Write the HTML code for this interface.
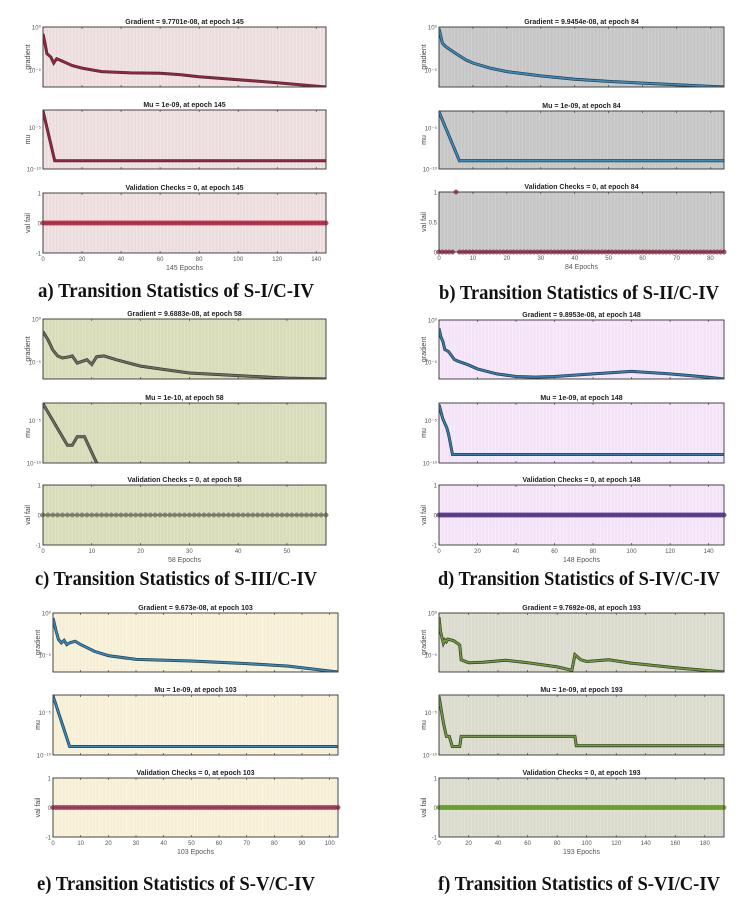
<!DOCTYPE html>
<html><head><meta charset="utf-8"><style>
html,body{margin:0;padding:0;background:#fff;}
svg{display:block;font-family:"Liberation Sans",sans-serif;}
</style></head><body>
<svg id="fig" width="753" height="907" viewBox="0 0 753 907" xmlns="http://www.w3.org/2000/svg">
<rect x="0" y="0" width="753" height="907" fill="#ffffff"/>
</svg>
<script>
// ---- Panel a data ----
const aEpochs=[0,1,2,4,5.5,7,10,15,20,30,45,60,70,80,100,120,145];
const aGrad=[-0.8,-1.9,-3.1,-3.5,-4.2,-3.7,-4.0,-4.5,-4.8,-5.2,-5.35,-5.4,-5.55,-5.8,-6.15,-6.5,-7.0];
const aMuEpochs=[0,6,145];
const aMu=[-3,-9,-9];
const aValFail=[]; for(let i=0;i<=145;i++) aValFail.push(0);
const aXTicks=[0,20,40,60,80,100,120,140];
// ---- Panel b data ----
const bEpochs=[0,1,2,5,8,10,15,20,30,40,50,60,70,84];
const bGrad=[-0.2,-1.9,-2.3,-3.1,-3.85,-4.2,-4.8,-5.2,-5.7,-6.1,-6.35,-6.55,-6.73,-7.0];
const bMuEpochs=[0,6,84];
const bMu=[-3,-9,-9];
const bValFail=[]; for(let i=0;i<=84;i++) bValFail.push(i===5?1:0);
const bXTicks=[0,10,20,30,40,50,60,70,80];
// ---- Panel c data ----
const cEpochs=[0,1,2,3,4,5.5,6,7,8,9,10,11,12.5,15,20,25,30,40,50,58];
const cGrad=[-1.47,-2.4,-3.6,-4.3,-4.55,-4.4,-4.3,-5.15,-4.95,-4.75,-5.3,-4.4,-4.3,-4.75,-5.5,-5.9,-6.3,-6.6,-6.9,-7.0];
const cMuEpochs=[0,5,6,7,8.5,11,12,58];
const cMu=[-3,-7.9,-7.9,-6.9,-6.9,-10,-10.5,-10.5];
const cValFail=[]; for(let i=0;i<=58;i++) cValFail.push(0);
const cXTicks=[0,10,20,30,40,50];
// ---- Panel d data ----
const dEpochs=[0,1,2,3,5,8,10,15,20,30,40,50,60,80,100,120,140,148];
const dGrad=[-1.0,-2.0,-2.55,-3.5,-3.75,-4.7,-4.9,-5.3,-5.8,-6.4,-6.7,-6.77,-6.7,-6.4,-6.1,-6.4,-6.8,-7.0];
const dMuEpochs=[0,2,4,5,7,148];
const dMu=[-3.1,-4.8,-5.8,-6.6,-9,-9];
const dValFail=[]; for(let i=0;i<=148;i++) dValFail.push(0);
const dXTicks=[0,20,40,60,80,100,120,140];
// ---- Panel e data ----
const eEpochs=[0,1,2,3,4,5,6,8,10,15,20,30,50,70,85,103];
const eGrad=[-0.6,-2.0,-3.15,-3.55,-3.25,-3.75,-3.55,-3.35,-3.75,-4.55,-5.05,-5.5,-5.7,-6.0,-6.3,-7.0];
const eMuEpochs=[0,6,103];
const eMu=[-3,-9,-9];
const eValFail=[]; for(let i=0;i<=103;i++) eValFail.push(0);
const eXTicks=[0,10,20,30,40,50,60,70,80,90,100];
// ---- Panel f data ----
const fEpochs=[0,1,3,4,5,6,10,14,15,20,30,45,60,80,90,92,96,100,115,130,160,193];
const fGrad=[-0.5,-2.2,-3.6,-3.2,-3.4,-3.1,-3.3,-3.8,-5.55,-5.9,-5.85,-5.6,-5.9,-6.4,-6.8,-4.95,-5.55,-5.75,-5.55,-5.95,-6.5,-7.0];
const fMuEpochs=[0,3,5,7,9,14,15,92,93,193];
const fMu=[-3.06,-6.2,-7.8,-7.8,-9,-9,-7.8,-7.8,-8.9,-8.9];
const fValFail=[]; for(let i=0;i<=193;i++) fValFail.push(0);
const fXTicks=[0,20,40,60,80,100,120,140,160,180];

const NS="http://www.w3.org/2000/svg";
const svg=document.getElementById('fig');
function mk(tag,attrs,parent){const e=document.createElementNS(NS,tag);for(const k in attrs)e.setAttribute(k,attrs[k]);(parent||svg).appendChild(e);return e;}

const panels=[
 {id:'a',x0:43,x1:326,g:[27,87],m:[110,169],v:[193,253],max:145,bg:'#ecdcdd',grid:'#f4eaea',line:'#a81e3c',mk:'#b0304a',vline:'#c02040',vrange:[-1,1],ep:aEpochs,gr:aGrad,me:aMuEpochs,mu:aMu,vf:aValFail,xt:aXTicks,gt:'Gradient = 9.7701e-08, at epoch 145',mt:'Mu = 1e-09, at epoch 145',vt:'Validation Checks = 0, at epoch 145',cap:'a) Transition Statistics of S-I/C-IV',cx:176,cy:297,cw:276},
 {id:'b',x0:439,x1:724,g:[27,87],m:[111,169],v:[192,252],max:84,bg:'#c6c6c6',grid:'#d2d2d2',line:'#2d8fcc',mk:'#a03050',vline:'none',vrange:[0,1],ep:bEpochs,gr:bGrad,me:bMuEpochs,mu:bMu,vf:bValFail,xt:bXTicks,gt:'Gradient = 9.9454e-08, at epoch 84',mt:'Mu = 1e-09, at epoch 84',vt:'Validation Checks = 0, at epoch 84',cap:'b) Transition Statistics of S-II/C-IV',cx:579,cy:299,cw:280},
 {id:'c',x0:43,x1:326,g:[319,379],m:[403,463],v:[485,545],max:58,bg:'#d9dcb9',grid:'#e2e4c8',line:'#6e6e5e',mk:'#7a7a6a',vline:'#7a7a6a',vrange:[-1,1],ep:cEpochs,gr:cGrad,me:cMuEpochs,mu:cMu,vf:cValFail,xt:cXTicks,gt:'Gradient = 9.6883e-08, at epoch 58',mt:'Mu = 1e-10, at epoch 58',vt:'Validation Checks = 0, at epoch 58',cap:'c) Transition Statistics of S-III/C-IV',cx:176,cy:585,cw:282},
 {id:'d',x0:439,x1:724,g:[320,379],m:[403,463],v:[485,545],max:148,bg:'#f4e3f7',grid:'#faeefc',line:'#2a80ba',mk:'#5a3a8a',vline:'#2aa0d8',vrange:[-1,1],ep:dEpochs,gr:dGrad,me:dMuEpochs,mu:dMu,vf:dValFail,xt:dXTicks,gt:'Gradient = 9.8953e-08, at epoch 148',mt:'Mu = 1e-09, at epoch 148',vt:'Validation Checks = 0, at epoch 148',cap:'d) Transition Statistics of S-IV/C-IV',cx:579,cy:585,cw:282},
 {id:'e',x0:53,x1:338,g:[613,672],m:[695,755],v:[778,837],max:103,bg:'#f6efd5',grid:'#faf6e4',line:'#2a8cc8',mk:'#a03050',vline:'#2aa0d8',vrange:[-1,1],ep:eEpochs,gr:eGrad,me:eMuEpochs,mu:eMu,vf:eValFail,xt:eXTicks,gt:'Gradient = 9.673e-08, at epoch 103',mt:'Mu = 1e-09, at epoch 103',vt:'Validation Checks = 0, at epoch 103',cap:'e) Transition Statistics of S-V/C-IV',cx:176,cy:890,cw:278},
 {id:'f',x0:439,x1:724,g:[613,672],m:[695,755],v:[778,837],max:193,bg:'#dadacd',grid:'#e4e4da',line:'#6aa032',mk:'#6aa032',vline:'#6aa032',vrange:[-1,1],ep:fEpochs,gr:fGrad,me:fMuEpochs,mu:fMu,vf:fValFail,xt:fXTicks,gt:'Gradient = 9.7692e-08, at epoch 193',mt:'Mu = 1e-09, at epoch 193',vt:'Validation Checks = 0, at epoch 193',cap:'f) Transition Statistics of S-VI/C-IV',cx:579,cy:890,cw:282}
];

let clipN=0;
function axes(p,grp,yr,lo,hi,title,ylabel,yticks,name){
 const [t,b]=yr;
 const bgr=mk('rect',{x:p.x0,y:t,width:p.x1-p.x0,height:b-t,fill:p.bg},grp);
 
 
 for(let x=p.x0+2;x<p.x1;x+=3.4){mk('line',{x1:x,y1:t,x2:x,y2:b,stroke:p.grid,'stroke-width':0.8},grp);}
 const tt=mk('text',{x:(p.x0+p.x1)/2,y:t-3,'text-anchor':'middle','font-size':7,'font-weight':'bold',fill:'#222'},grp);
 tt.textContent=title;
 
 
 const yl=mk('text',{x:0,y:0,'text-anchor':'middle','font-size':7,fill:'#444',transform:`translate(${p.x0-13},${(t+b)/2}) rotate(-90)`},grp);
 yl.textContent=ylabel;
 
 
 const ys=v=>t+(hi-v)/(hi-lo)*(b-t);
 yticks.forEach(tk=>{
  const y=ys(tk.v);
  const tl=mk('text',{x:p.x0-2,y:y+2.5,'text-anchor':'end','font-size':6,fill:'#555'},grp);
  tl.textContent=tk.l;
  
  
 });
 const xs=e=>p.x0+e/p.max*(p.x1-p.x0);
 p.xt.forEach(v=>{const x=xs(v);mk('line',{x1:x,y1:t,x2:x,y2:t+2,stroke:'#333','stroke-width':0.6},grp);mk('line',{x1:x,y1:b,x2:x,y2:b-2,stroke:'#333','stroke-width':0.6},grp);});
 const cid='clip'+(clipN++);
 const cp=mk('clipPath',{id:cid},grp);mk('rect',{x:p.x0,y:t,width:p.x1-p.x0,height:b-t},cp);
 return {ys,xs,cid,t,b};
}
function frame(p,yr,grp){mk('rect',{x:p.x0,y:yr[0],width:p.x1-p.x0,height:yr[1]-yr[0],fill:'none',stroke:'#333','stroke-width':0.9},grp);}

panels.forEach(p=>{
 const grp=mk('g',{});
 
 
 const G=axes(p,grp,p.g,-7,0,p.gt,'gradient',[{v:0,l:'10⁰'},{v:-5,l:'10⁻⁵'}],'gradient-'+p.id);
 const gpts=p.ep.map((e,i)=>G.xs(e).toFixed(1)+','+G.ys(p.gr[i]).toFixed(1)).join(' ');
 mk('polyline',{points:gpts,fill:'none',stroke:'#333','stroke-width':3,'clip-path':`url(#${G.cid})`},grp);
 const gl=mk('polyline',{points:gpts,fill:'none',stroke:p.line,'stroke-width':1.7,'clip-path':`url(#${G.cid})`},grp);
 
 
 frame(p,p.g,grp);
 const M=axes(p,grp,p.m,-10,-2.9,p.mt,'mu',[{v:-5,l:'10⁻⁵'},{v:-10,l:'10⁻¹⁰'}],'mu-'+p.id);
 const mpts=p.me.map((e,i)=>M.xs(e).toFixed(1)+','+M.ys(p.mu[i]).toFixed(1)).join(' ');
 mk('polyline',{points:mpts,fill:'none',stroke:'#333','stroke-width':3,'clip-path':`url(#${M.cid})`},grp);
 const ml=mk('polyline',{points:mpts,fill:'none',stroke:p.line,'stroke-width':1.7,'clip-path':`url(#${M.cid})`},grp);
 
 
 frame(p,p.m,grp);
 const [lo,hi]=p.vrange;
 const vt=lo===0?[{v:1,l:'1'},{v:0.5,l:'0.5'},{v:0,l:'0'}]:[{v:1,l:'1'},{v:0,l:'0'},{v:-1,l:'-1'}];
 const V=axes(p,grp,p.v,lo,hi,p.vt,'val fail',vt,'validation-'+p.id);
 const vpts=p.vf.map((v,i)=>V.xs(i).toFixed(1)+','+V.ys(v).toFixed(1)).join(' ');
 const vl=mk('polyline',{points:vpts,fill:'none',stroke:p.vline,'stroke-width':2},grp);
 
 
 p.vf.forEach((v,i)=>{
  const c=mk('circle',{cx:V.xs(i).toFixed(1),cy:V.ys(v).toFixed(1),r:2.2,fill:p.mk,stroke:p.mk,'stroke-width':0.5,'fill-opacity':0.8},grp);
  
  
 });
 frame(p,p.v,grp);
 p.xt.forEach(v=>{
  const xl=mk('text',{x:V.xs(v),y:p.v[1]+8,'text-anchor':'middle','font-size':6,fill:'#555'},grp);
  xl.textContent=String(v);
  
  
 });
 const xt=mk('text',{x:(p.x0+p.x1)/2,y:p.v[1]+17,'text-anchor':'middle','font-size':7,fill:'#555'},grp);
 xt.textContent=p.max+' Epochs';
 
 
 const cap=mk('text',{x:p.cx,y:p.cy,'text-anchor':'middle','font-size':20,'font-weight':'bold',fill:'#111','font-family':'"Liberation Serif",serif',textLength:p.cw,lengthAdjust:'spacingAndGlyphs'},grp);
 cap.textContent=p.cap;
 
 
});
</script>
</body></html>
